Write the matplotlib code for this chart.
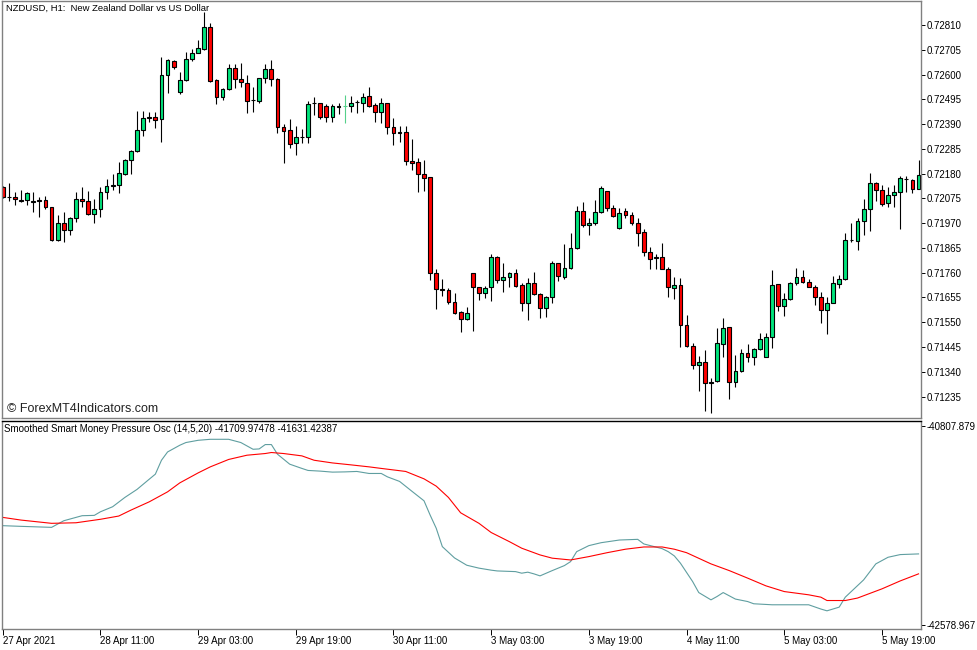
import matplotlib
matplotlib.use("Agg")
import matplotlib.pyplot as plt

# NZDUSD H1 candles, bar 0 = 27 Apr 2021 19:00
opens = [0.72122, 0.72079, 0.72081, 0.72068, 0.72068, 0.72061, 0.72067, 0.72068, 0.72037, 0.71898,
         0.71969, 0.71941, 0.71990, 0.72072, 0.72062, 0.72009, 0.72030, 0.72103, 0.72127, 0.72132,
         0.72178, 0.72238, 0.72277, 0.72365, 0.72419, 0.72420, 0.72410, 0.72597, 0.72657, 0.72525,
         0.72575, 0.72665, 0.72693, 0.72707, 0.72802, 0.72575, 0.72505, 0.72537, 0.72626, 0.72581,
         0.72565, 0.72492, 0.72489, 0.72584, 0.72622, 0.72580, 0.72376, 0.72363, 0.72308, 0.72336,
         0.72336, 0.72478, 0.72478, 0.72468, 0.72421, 0.72465, 0.72465, 0.72467, 0.72482, 0.72478,
         0.72509, 0.72471, 0.72440, 0.72478, 0.72376, 0.72355, 0.72355, 0.72235, 0.72228, 0.72180,
         0.72164, 0.71757, 0.71689, 0.71686, 0.71637, 0.71592, 0.71563, 0.71757, 0.71698, 0.71675,
         0.71698, 0.71825, 0.71729, 0.71743, 0.71757, 0.71708, 0.71630, 0.71715, 0.71668, 0.71609,
         0.71655, 0.71800, 0.71743, 0.71778, 0.71866, 0.72021, 0.71962, 0.71969, 0.72016, 0.72106,
         0.72033, 0.71948, 0.72020, 0.72004, 0.71972, 0.71931, 0.71848, 0.71825, 0.71825, 0.71774,
         0.71694, 0.71708, 0.71538, 0.71449, 0.71368, 0.71382, 0.71291, 0.71302, 0.71457, 0.71528,
         0.71295, 0.71344, 0.71421, 0.71404, 0.71436, 0.71404, 0.71486, 0.71712, 0.71619, 0.71647,
         0.71715, 0.71740, 0.71722, 0.71700, 0.71658, 0.71602, 0.71633, 0.71711, 0.71733, 0.71898,
         0.71894, 0.71979, 0.72030, 0.72141, 0.72110, 0.72054, 0.72089, 0.72103, 0.72157, 0.72153,
         0.72115]
highs = [0.72127, 0.72141, 0.72101, 0.72109, 0.72103, 0.72102, 0.72081, 0.72085, 0.72040, 0.72004,
         0.72016, 0.71995, 0.72101, 0.72122, 0.72106, 0.72071, 0.72124, 0.72158, 0.72178, 0.72229,
         0.72241, 0.72280, 0.72445, 0.72445, 0.72441, 0.72442, 0.72676, 0.72665, 0.72662, 0.72612,
         0.72697, 0.72707, 0.72746, 0.72866, 0.72817, 0.72580, 0.72542, 0.72645, 0.72645, 0.72648,
         0.72598, 0.72546, 0.72586, 0.72645, 0.72662, 0.72584, 0.72390, 0.72410, 0.72382, 0.72368,
         0.72489, 0.72503, 0.72479, 0.72475, 0.72475, 0.72481, 0.72513, 0.72509, 0.72492, 0.72520,
         0.72548, 0.72478, 0.72499, 0.72479, 0.72414, 0.72383, 0.72383, 0.72327, 0.72245, 0.72238,
         0.72165, 0.71774, 0.71732, 0.71694, 0.71675, 0.71599, 0.71616, 0.71758, 0.71700, 0.71703,
         0.71839, 0.71831, 0.71800, 0.71764, 0.71775, 0.71715, 0.71736, 0.71764, 0.71672, 0.71661,
         0.71811, 0.71801, 0.71881, 0.71929, 0.72043, 0.72061, 0.71990, 0.72068, 0.72127, 0.72107,
         0.72047, 0.72033, 0.72033, 0.72018, 0.71990, 0.71944, 0.71867, 0.71839, 0.71887, 0.71783,
         0.71743, 0.71736, 0.71580, 0.71460, 0.71407, 0.71432, 0.71312, 0.71524, 0.71566, 0.71531,
         0.71411, 0.71435, 0.71457, 0.71442, 0.71505, 0.71505, 0.71771, 0.71713, 0.71672, 0.71722,
         0.71778, 0.71771, 0.71732, 0.71708, 0.71679, 0.71658, 0.71746, 0.71750, 0.71929, 0.71972,
         0.71990, 0.72071, 0.72181, 0.72146, 0.72132, 0.72122, 0.72132, 0.72170, 0.72170, 0.72157,
         0.72238]
lows = [0.72077, 0.72065, 0.72047, 0.72059, 0.72048, 0.72016, 0.71997, 0.72029, 0.71895, 0.71895,
        0.71889, 0.71920, 0.71976, 0.72040, 0.72004, 0.71972, 0.71997, 0.72071, 0.72110, 0.72096,
        0.72174, 0.72178, 0.72273, 0.72339, 0.72400, 0.72372, 0.72315, 0.72523, 0.72622, 0.72517,
        0.72573, 0.72659, 0.72690, 0.72704, 0.72570, 0.72475, 0.72492, 0.72534, 0.72542, 0.72548,
        0.72436, 0.72441, 0.72478, 0.72565, 0.72551, 0.72353, 0.72226, 0.72287, 0.72259, 0.72308,
        0.72308, 0.72428, 0.72410, 0.72400, 0.72400, 0.72433, 0.72396, 0.72442, 0.72438, 0.72442,
        0.72464, 0.72400, 0.72396, 0.72348, 0.72301, 0.72315, 0.72216, 0.72195, 0.72103, 0.72106,
        0.71729, 0.71605, 0.71661, 0.71627, 0.71585, 0.71510, 0.71559, 0.71514, 0.71644, 0.71651,
        0.71641, 0.71715, 0.71679, 0.71700, 0.71700, 0.71599, 0.71559, 0.71665, 0.71566, 0.71573,
        0.71633, 0.71726, 0.71732, 0.71774, 0.71862, 0.71955, 0.71920, 0.71962, 0.72012, 0.72023,
        0.71997, 0.71944, 0.71990, 0.71962, 0.71873, 0.71831, 0.71774, 0.71774, 0.71774, 0.71655,
        0.71647, 0.71446, 0.71446, 0.71350, 0.71259, 0.71175, 0.71164, 0.71298, 0.71404, 0.71223,
        0.71276, 0.71340, 0.71382, 0.71368, 0.71432, 0.71401, 0.71439, 0.71599, 0.71576, 0.71644,
        0.71708, 0.71715, 0.71698, 0.71623, 0.71545, 0.71499, 0.71630, 0.71694, 0.71729, 0.71891,
        0.71856, 0.71920, 0.71938, 0.72065, 0.72044, 0.72040, 0.72040, 0.71944, 0.72103, 0.72099,
        0.72113]
closes = [0.72079, 0.72081, 0.72071, 0.72064, 0.72099, 0.72064, 0.72066, 0.72037, 0.71898, 0.71969,
          0.71941, 0.71990, 0.72071, 0.72062, 0.72009, 0.72029, 0.72103, 0.72127, 0.72133, 0.72181,
          0.72238, 0.72277, 0.72365, 0.72417, 0.72418, 0.72406, 0.72597, 0.72660, 0.72633, 0.72575,
          0.72665, 0.72693, 0.72711, 0.72802, 0.72574, 0.72503, 0.72537, 0.72626, 0.72581, 0.72567,
          0.72489, 0.72491, 0.72584, 0.72622, 0.72580, 0.72376, 0.72362, 0.72305, 0.72334, 0.72337,
          0.72475, 0.72479, 0.72421, 0.72419, 0.72467, 0.72464, 0.72465, 0.72481, 0.72483, 0.72506,
          0.72468, 0.72442, 0.72478, 0.72376, 0.72351, 0.72354, 0.72235, 0.72224, 0.72177, 0.72160,
          0.71757, 0.71689, 0.71688, 0.71637, 0.71588, 0.71563, 0.71590, 0.71698, 0.71675, 0.71694,
          0.71825, 0.71729, 0.71740, 0.71757, 0.71705, 0.71633, 0.71715, 0.71669, 0.71609, 0.71655,
          0.71802, 0.71747, 0.71778, 0.71866, 0.72023, 0.71962, 0.71972, 0.72018, 0.72118, 0.72033,
          0.72001, 0.72012, 0.72004, 0.71969, 0.71929, 0.71846, 0.71817, 0.71824, 0.71777, 0.71698,
          0.71708, 0.71538, 0.71449, 0.71368, 0.71382, 0.71291, 0.71296, 0.71463, 0.71527, 0.71295,
          0.71344, 0.71421, 0.71404, 0.71436, 0.71479, 0.71486, 0.71706, 0.71619, 0.71647, 0.71715,
          0.71740, 0.71722, 0.71700, 0.71658, 0.71602, 0.71633, 0.71715, 0.71733, 0.71898, 0.71899,
          0.71979, 0.72030, 0.72141, 0.72110, 0.72050, 0.72089, 0.72101, 0.72160, 0.72158, 0.72115,
          0.72174]

# oscillator lines, read at the listed bars
main_bars = [0, 3, 8, 10, 13, 15, 16, 18, 20, 22, 24, 25, 26, 27, 29, 30, 32, 34, 37, 39,
             41, 42, 43, 44, 45, 47, 49, 50, 52, 54, 56, 58, 60, 62, 63, 65, 67, 69, 70, 71,
             72, 74, 76, 78, 80, 81, 84, 85, 86, 87, 88, 90, 92, 93, 94, 96, 98, 101, 104, 105,
             108, 109, 110, 111, 113, 114, 116, 117, 118, 120, 122, 123, 126, 129, 132, 134, 135, 137, 138, 141,
             143, 145, 147, 150]
main_line = [-41695, -41701, -41710, -41651, -41606, -41603, -41571, -41526, -41443, -41371,
             -41280, -41235, -41111, -41037, -40977, -40953, -40933, -40924, -40924, -40953,
             -41013, -41010, -40971, -40971, -41057, -41146, -41184, -41202, -41208, -41217,
             -41215, -41211, -41229, -41229, -41259, -41300, -41387, -41473, -41600, -41718,
             -41882, -41983, -42048, -42074, -42092, -42099, -42105, -42119, -42110, -42125,
             -42143, -42096, -42051, -42016, -41927, -41873, -41847, -41823, -41817, -41858,
             -41900, -41927, -41965, -42030, -42194, -42292, -42357, -42327, -42292, -42350,
             -42372, -42392, -42401, -42401, -42401, -42439, -42455, -42422, -42333, -42179,
             -42036, -41977, -41953, -41947]
signal_bars = [0, 3, 8, 12, 16, 19, 21, 24, 27, 29, 32, 34, 37, 40, 43, 44, 46, 49, 51, 54,
               57, 60, 62, 66, 69, 71, 73, 75, 78, 80, 83, 85, 88, 90, 93, 96, 99, 102, 105, 108,
               110, 112, 116, 119, 122, 125, 128, 132, 134, 135, 138, 140, 144, 147, 150]
signal_line = [-41621, -41645, -41674, -41669, -41638, -41609, -41556, -41482, -41393, -41313,
               -41224, -41170, -41104, -41066, -41051, -41042, -41051, -41072, -41111, -41135,
               -41152, -41170, -41184, -41211, -41277, -41342, -41443, -41580, -41674, -41756,
               -41838, -41896, -41956, -41985, -42001, -41971, -41936, -41905, -41885, -41885,
               -41905, -41936, -42036, -42096, -42163, -42232, -42283, -42312, -42333, -42363,
               -42363, -42341, -42259, -42188, -42125]

price_ticks = [0.72810, 0.72705, 0.72600, 0.72495, 0.72390, 0.72285, 0.72180, 0.72075,
               0.71970, 0.71865, 0.71760, 0.71655, 0.71550, 0.71445, 0.71340, 0.71235]
osc_ticks = [-40807.879, -42578.967]
date_bars = [0, 16, 32, 48, 64, 80, 96, 112, 128, 144]
date_labels = ["27 Apr 2021", "28 Apr 11:00", "29 Apr 03:00", "29 Apr 19:00", "30 Apr 11:00",
               "3 May 03:00", "3 May 19:00", "4 May 11:00", "5 May 03:00", "5 May 19:00"]

plt.rcParams["font.family"] = ["Liberation Sans", "DejaVu Sans"]

W, H = 977, 650
fig = plt.figure(figsize=(W / 100, H / 100), dpi=100)
fig.patch.set_facecolor("white")

def rect(x0, y0, x1, y1):
    return [x0 / W, 1 - y1 / H, (x1 - x0) / W, (y1 - y0) / H]

ax = fig.add_axes(rect(2, 1, 921, 418))
osc = fig.add_axes(rect(2, 421, 921, 629))

bull = "#00e47c"
bear = "#ff0000"
for i in range(len(opens)):
    o, h, l, c = opens[i], highs[i], lows[i], closes[i]
    if o == c:
        ax.vlines(i, l, h, color="#55d08a", linewidth=0.8, zorder=1)
        ax.hlines(o, i - 0.35, i + 0.35, color="#55d08a", linewidth=0.8, zorder=2)
        continue
    ax.vlines(i, l, h, color="black", linewidth=0.8, zorder=1)
    ax.bar(i, abs(c - o), bottom=min(o, c), width=0.62,
           color=bull if c > o else bear, edgecolor="black", linewidth=0.8, zorder=2)

ax.set_xlim(-0.12, 150.4)
ax.set_ylim(0.71144, 0.72912)
ax.yaxis.tick_right()
ax.set_yticks(price_ticks)
ax.set_yticklabels(["%.5f" % t for t in price_ticks])
ax.tick_params(axis="y", direction="out", length=3, width=0.7, pad=1, labelsize=7, colors="black")
ax.set_xticks([])
for s in ax.spines.values():
    s.set_color("#808080")
    s.set_linewidth(1)

fig.text(6 / W, 1 - 8 / H, "NZDUSD, H1:  New Zealand Dollar vs US Dollar", fontsize=6.8,
         va="center", ha="left")
fig.text(7 / W, 1 - 409 / H, "\u00a9 ForexMT4Indicators.com",
         fontsize=9, va="center", ha="left", color="#222222")

osc.plot(main_bars, main_line, color="#5f9ea0", linewidth=0.8)
osc.plot(signal_bars, signal_line, color="#ff0000", linewidth=0.8)
osc.set_xlim(-0.12, 150.4)
osc.set_ylim(-42617.2, -40760.7)
osc.yaxis.tick_right()
osc.set_yticks(osc_ticks)
osc.set_yticklabels(["%.3f" % t for t in osc_ticks])
osc.tick_params(axis="y", direction="out", length=3, width=0.7, pad=1, labelsize=7)
osc.set_xticks(date_bars)
osc.set_xticklabels(date_labels, ha="left")
osc.tick_params(axis="x", direction="out", length=4, width=0.7, pad=1, labelsize=7)
for s in osc.spines.values():
    s.set_color("#808080")
    s.set_linewidth(1)
osc.spines["top"].set_color("black")
fig.text(4 / W, 1 - 429 / H, "Smoothed Smart Money Pressure Osc (14,5,20) -41709.97478 -41631.42387",
         fontsize=7, va="center", ha="left")

fig.savefig("out.png", dpi=100, facecolor="white")
